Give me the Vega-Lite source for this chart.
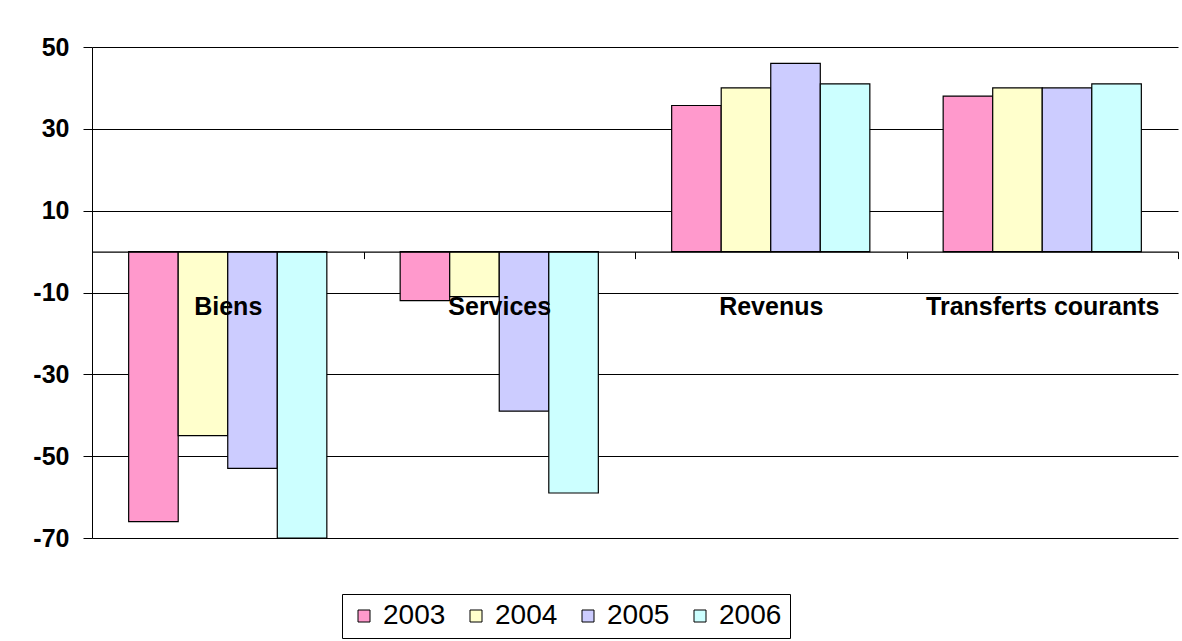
{
  "$schema": "https://vega.github.io/schema/vega-lite/v6.json",
  "autosize": "none",
  "width": 1086,
  "height": 491,
  "padding": {"left": 92, "top": 47, "right": 4, "bottom": 103},
  "background": "white",
  "config": {
    "font": "Liberation Sans",
    "view": {"stroke": null}
  },
  "data": {
    "values": [
      {"categorie": "Biens", "annee": "2003", "valeur": -66},
      {"categorie": "Biens", "annee": "2004", "valeur": -45},
      {"categorie": "Biens", "annee": "2005", "valeur": -53},
      {"categorie": "Biens", "annee": "2006", "valeur": -70},
      {"categorie": "Services", "annee": "2003", "valeur": -12},
      {"categorie": "Services", "annee": "2004", "valeur": -11},
      {"categorie": "Services", "annee": "2005", "valeur": -39},
      {"categorie": "Services", "annee": "2006", "valeur": -59},
      {"categorie": "Revenus", "annee": "2003", "valeur": 35.7},
      {"categorie": "Revenus", "annee": "2004", "valeur": 40},
      {"categorie": "Revenus", "annee": "2005", "valeur": 46},
      {"categorie": "Revenus", "annee": "2006", "valeur": 41},
      {"categorie": "Transferts courants", "annee": "2003", "valeur": 38},
      {"categorie": "Transferts courants", "annee": "2004", "valeur": 40},
      {"categorie": "Transferts courants", "annee": "2005", "valeur": 40},
      {"categorie": "Transferts courants", "annee": "2006", "valeur": 41}
    ]
  },
  "mark": {"type": "bar", "stroke": "black", "strokeWidth": 1.2, "opacity": 1},
  "encoding": {
    "x": {
      "field": "categorie",
      "type": "nominal",
      "sort": ["Biens", "Services", "Revenus", "Transferts courants"],
      "scale": {"paddingInner": 0, "paddingOuter": 0},
      "axis": {
        "title": null,
        "orient": "bottom",
        "offset": -286.4,
        "zindex": 2,
        "labelAngle": 0,
        "labelFont": "Liberation Sans",
        "labelFontSize": 25,
        "labelFontWeight": "bold",
        "labelColor": "black",
        "labelPadding": 36,
        "labelLimit": 0,
        "labelOverlap": false,
        "tickBand": "extent",
        "tickSize": 7,
        "tickColor": "black",
        "domainColor": "black",
        "domainWidth": 1.2,
        "grid": false
      }
    },
    "xOffset": {
      "field": "annee",
      "type": "nominal",
      "scale": {"paddingInner": 0, "paddingOuter": 0.74}
    },
    "y": {
      "field": "valeur",
      "type": "quantitative",
      "scale": {"domain": [-70, 50], "nice": false, "zero": false},
      "axis": {
        "title": null,
        "values": [50, 30, 10, -10, -30, -50, -70],
        "labelExpr": "toString(datum.value)",
        "labelFont": "Liberation Sans",
        "labelFontSize": 25,
        "labelFontWeight": "bold",
        "labelColor": "black",
        "labelPadding": 14,
        "tickSize": 9,
        "tickColor": "black",
        "domainColor": "black",
        "grid": true,
        "gridColor": "black",
        "gridOpacity": 1,
        "gridWidth": 1
      }
    },
    "color": {
      "field": "annee",
      "type": "nominal",
      "scale": {
        "domain": ["2003", "2004", "2005", "2006"],
        "range": ["#FF99CC", "#FFFFCC", "#CCCCFF", "#CCFFFF"]
      },
      "legend": {
        "title": null,
        "orient": "none",
        "legendX": 250,
        "legendY": 547,
        "direction": "horizontal",
        "strokeColor": "black",
        "fillColor": "white",
        "padding": 8,
        "symbolType": "square",
        "symbolSize": 144,
        "symbolStrokeColor": "black",
        "symbolStrokeWidth": 1,
        "symbolOpacity": 1,
        "labelFont": "Liberation Sans",
        "labelFontSize": 28,
        "labelColor": "black",
        "labelOffset": 5,
        "columnPadding": 16
      }
    }
  }
}
